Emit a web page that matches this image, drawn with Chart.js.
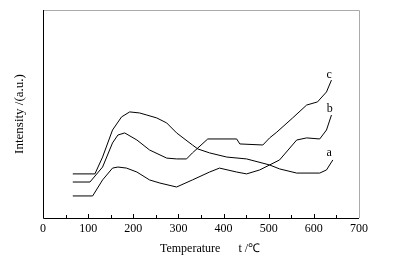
<!DOCTYPE html>
<html>
<head>
<meta charset="utf-8">
<script src="https://cdn.jsdelivr.net/npm/chart.js@4"></script>
<style>
  html, body { margin: 0; padding: 0; background: #fff; }
  #wrap { width: 399px; height: 256px; }
</style>
</head>
<body>
<div id="wrap"><canvas id="grafica"></canvas></div>
<script>
// datos (t en grados C, intensidad en unidades arbitrarias)
var temp_a = [66, 115, 132, 154, 174, 192, 214, 230, 252, 274, 296, 331, 343, 369, 407, 451, 502, 524, 562, 613, 628, 642];
var int_a  = [21.2, 21.2, 29.3, 42.3, 48.6, 51.0, 50.5, 49.5, 48.1, 45.7, 40.9, 35.1, 33.2, 31.3, 29.3, 28.4, 25.5, 23.6, 21.6, 21.6, 23.1, 27.9];

var temp_b = [66, 110, 132, 154, 166, 185, 208, 236, 259, 296, 331, 369, 391, 429, 451, 480, 502, 524, 562, 584, 613, 628, 639];
var int_b  = [10.6, 10.6, 18.3, 24.0, 24.5, 24.0, 22.1, 18.3, 16.8, 14.9, 18.3, 22.1, 24.0, 22.1, 21.2, 23.1, 25.5, 27.9, 37.5, 38.5, 38.0, 42.3, 49.5];

var temp_c = [66, 104, 132, 154, 166, 181, 208, 236, 274, 296, 318, 331, 365, 429, 436, 487, 502, 518, 553, 584, 608, 628, 639];
var int_c  = [17.3, 17.3, 24.5, 36.1, 39.9, 40.9, 37.5, 32.7, 28.8, 28.4, 28.4, 31.3, 38.0, 38.0, 35.6, 35.1, 38.5, 41.3, 48.1, 54.3, 55.8, 60.6, 66.3];

var etiquetas = ['a', 'b', 'c'];
var pos_etiquetas = [[634, 31.3], [635, 52.4], [634, 68.8]];
var xticks = [0, 100, 200, 300, 400, 500, 600, 700];

function puntos(xs, ys) {
  return xs.map(function (x, i) { return { x: x, y: ys[i] }; });
}

var fuente = 'Liberation Serif';

// marco y marcas hacia dentro
const marco = {
  id: 'marco',
  afterDraw(chart) {
    const ctx = chart.ctx;
    const a = chart.chartArea;
    const sx = chart.scales.x;
    const sy = chart.scales.y;
    ctx.save();
    ctx.lineWidth = 1;
    ctx.strokeStyle = '#aaaaaa';
    ctx.beginPath();
    ctx.moveTo(a.left, a.top + 0.5);
    ctx.lineTo(a.right + 0.5, a.top + 0.5);
    ctx.lineTo(a.right + 0.5, a.bottom);
    ctx.stroke();
    ctx.strokeStyle = '#000';
    ctx.beginPath();
    ctx.moveTo(a.left + 0.5, a.top);
    ctx.lineTo(a.left + 0.5, a.bottom + 0.5);
    ctx.lineTo(a.right, a.bottom + 0.5);
    ctx.stroke();
    for (let t = 50; t < 700; t += 50) {
      const px = Math.round(sx.getPixelForValue(t)) + 0.5;
      const largo = (t % 100 === 0) ? 4 : 3;
      ctx.beginPath();
      ctx.moveTo(px, a.bottom);
      ctx.lineTo(px, a.bottom - largo);
      ctx.stroke();
    }
    // etiquetas de las curvas
    ctx.fillStyle = '#000';
    ctx.font = '12px "' + fuente + '"';
    ctx.textAlign = 'center';
    ctx.textBaseline = 'middle';
    etiquetas.forEach(function (et, i) {
      ctx.fillText(et, sx.getPixelForValue(pos_etiquetas[i][0]), sy.getPixelForValue(pos_etiquetas[i][1]));
    });
    ctx.restore();
  }
};

function serie(nombre, xs, ys) {
  return {
    label: nombre,
    data: puntos(xs, ys),
    borderColor: '#000',
    borderWidth: 1,
    pointRadius: 0,
    tension: 0,
    fill: false
  };
}

new Chart(document.getElementById('grafica'), {
  type: 'line',
  data: {
    datasets: [
      serie('a', temp_a, int_a),
      serie('b', temp_b, int_b),
      serie('c', temp_c, int_c)
    ]
  },
  options: {
    responsive: true,
    maintainAspectRatio: false,
    animation: false,
    layout: { padding: { top: 10, right: 40, left: 0, bottom: 0 } },
    plugins: { legend: { display: false }, tooltip: { enabled: false } },
    scales: {
      x: {
        type: 'linear',
        min: 0,
        max: 700,
        afterFit: function (s) { s.height = 38; },
        afterBuildTicks: function (s) { s.ticks = xticks.map(function (v) { return { value: v }; }); },
        grid: { display: false, drawTicks: false },
        border: { display: false },
        ticks: { color: '#000', padding: 4, font: { family: fuente, size: 12 }, maxRotation: 0 },
        title: {
          display: true,
          text: '      Temperature      t /\u2103',
          color: '#000',
          font: { family: fuente, size: 12 },
          padding: { top: 2, bottom: 0 }
        }
      },
      y: {
        type: 'linear',
        min: 0,
        max: 100,
        afterFit: function (s) { s.width = 43; },
        grid: { display: false, drawTicks: false },
        border: { display: false },
        ticks: { display: false },
        title: {
          display: true,
          text: 'Intensity /(a.u.)',
          color: '#000',
          font: { family: fuente, size: 13 },
          padding: { top: 12, bottom: 0 }
        }
      }
    }
  },
  plugins: [marco]
});
</script>
</body>
</html>
